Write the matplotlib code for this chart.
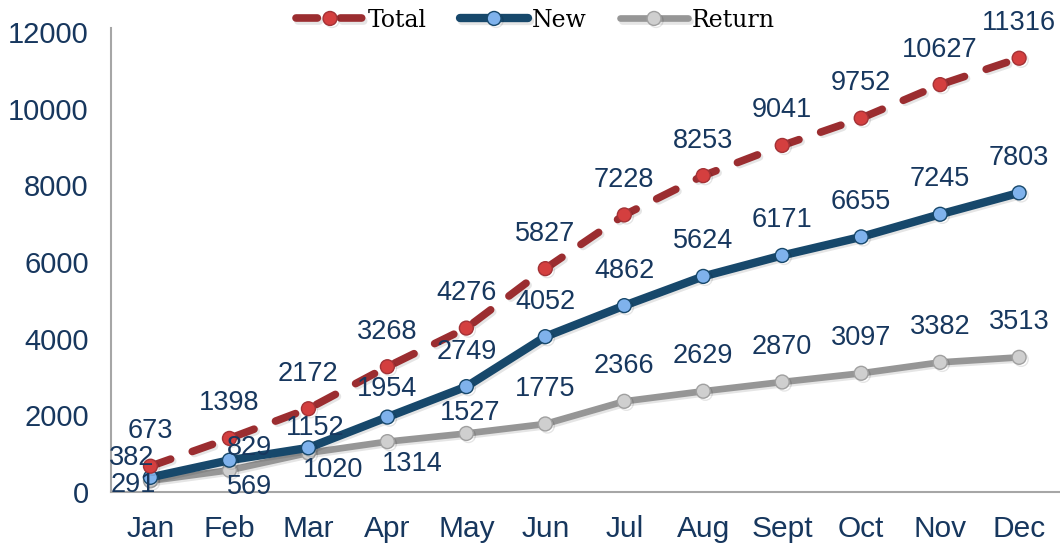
import matplotlib
matplotlib.use('Agg')
import matplotlib.pyplot as plt
import matplotlib.patheffects as pe

# data
months = ['Jan', 'Feb', 'Mar', 'Apr', 'May', 'Jun', 'Jul', 'Aug', 'Sept', 'Oct', 'Nov', 'Dec']
total = [673, 1398, 2172, 3268, 4276, 5827, 7228, 8253, 9041, 9752, 10627, 11316]
new = [382, 829, 1152, 1954, 2749, 4052, 4862, 5624, 6171, 6655, 7245, 7803]
ret = [291, 569, 1020, 1314, 1527, 1775, 2366, 2629, 2870, 3097, 3382, 3513]

# label offsets in pixels (default is straight above the point)
up = (0, 35)
total_off = [up] * 12
new_off = [(-19, 19), (20, 12), (7, 20), (0, 28)] + [up] * 8
ret_off = [(-17, -4), (20, -17), (25, -17), (25, -22), (4, 20)] + [up] * 7

txt_col = '#17375e'

fig = plt.figure(figsize=(10.6, 5.46), dpi=100)
ax = fig.add_axes([0.1047, 0.0989, 0.894, 0.8498])
x = list(range(len(months)))

shadow = [pe.SimpleLineShadow(offset=(1.5, -1.5), shadow_color='k', alpha=0.1), pe.Normal()]

l1, = ax.plot(x, total, color='#9b2d30', lw=5.5, ls=(0, (2.8, 3.0)), dash_capstyle='round',
              marker='o', ms=10, mfc='#d43f3f', mec='#a33236', mew=1, zorder=3,
              label='Total', path_effects=shadow)
l2, = ax.plot(x, new, color='#17486b', lw=6, solid_capstyle='round',
              marker='o', ms=10, mfc='#7fb2ec', mec='#17486b', mew=1, zorder=2,
              label='New', path_effects=shadow)
l3, = ax.plot(x, ret, color='#969696', lw=4.8, solid_capstyle='round',
              marker='o', ms=10, mfc='#cfcfcf', mec='#a0a0a0', mew=1, zorder=1,
              label='Return', path_effects=shadow)

for vals, offs in [(total, total_off), (new, new_off), (ret, ret_off)]:
    for i, v in enumerate(vals):
        ax.annotate(str(v), (x[i], v), xytext=offs[i], textcoords='offset pixels',
                    ha='center', va='center', fontsize=19.5, color=txt_col,
                    family='Liberation Sans', zorder=5)

ax.set_xlim(-0.5, 11.5)
ax.set_ylim(0, 12104)
ax.set_xticks(x)
ax.set_xticklabels(months)
ax.set_yticks(range(0, 12001, 2000))
ax.tick_params(length=0, labelcolor=txt_col)
ax.tick_params(axis='x', pad=16.5, labelsize=21.5)
ax.tick_params(axis='y', pad=16, labelsize=21)
for lab in ax.get_xticklabels() + ax.get_yticklabels():
    lab.set_family('Liberation Sans')

for s in ['top', 'right']:
    ax.spines[s].set_visible(False)
for s in ['left', 'bottom']:
    ax.spines[s].set_color('#a6a6a6')
    ax.spines[s].set_linewidth(1.5)

leg = fig.legend(handles=[l1, l2, l3], loc='center', bbox_to_anchor=(0.505, 0.963), ncol=3,
                 frameon=False, handlelength=2.9, handletextpad=0.15, columnspacing=1.4,
                 prop={'family': 'DejaVu Serif', 'size': 17})

fig.savefig('out.png', dpi=100)
